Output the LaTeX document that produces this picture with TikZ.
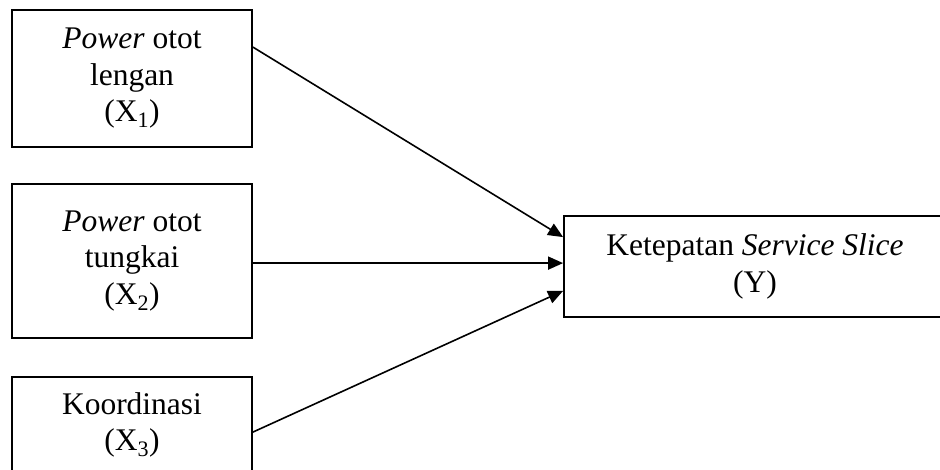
\documentclass[tikz,border=0pt]{standalone}
\usepackage{fontspec}
\setmainfont{Liberation Serif}
\usetikzlibrary{arrows.meta}
\begin{document}
\begin{tikzpicture}[x=1pt,y=-1pt,
  varbox/.style={draw,line width=1.8pt,inner sep=0pt,align=center,
    font=\fontsize{31.5}{36.5}\selectfont},
  link/.style={line width=1.6pt,-{Triangle[length=15pt,width=13pt]}}]
\useasboundingbox (0,0) rectangle (940,470);
\clip (0,0) rectangle (940,470);
\fill[white] (0,0) rectangle (940,470);
\node[varbox,minimum width=240pt,minimum height=137pt] (b1) at (132,78.5)
  {\textit{Power} otot\\lengan\\(X\textsubscript{1})};
\node[varbox,minimum width=240pt,minimum height=154pt] (b2) at (132,261)
  {\textit{Power} otot\\tungkai\\(X\textsubscript{2})};
\node[varbox,minimum width=240pt,minimum height=96pt] (b3) at (132,425)
  {Koordinasi\\(X\textsubscript{3})};
\node[varbox,minimum width=382pt,minimum height=101pt] (y) at (755,266.5)
  {Ketepatan \textit{Service Slice}\\(Y)};
\coordinate (s1) at ([yshift=-38pt]b1.north east);
\coordinate (t1) at ([yshift=-22pt]y.north west);
\coordinate (s2) at ([yshift=-80pt]b2.north east);
\coordinate (s3) at ([yshift=-56pt]b3.north east);
\coordinate (t3) at ([yshift=27pt]y.south west);
\draw[link] (s1) -- (t1);
\draw[link] (s2) -- (s2 -| y.west);
\draw[link] (s3) -- (t3);
\end{tikzpicture}
\end{document}
